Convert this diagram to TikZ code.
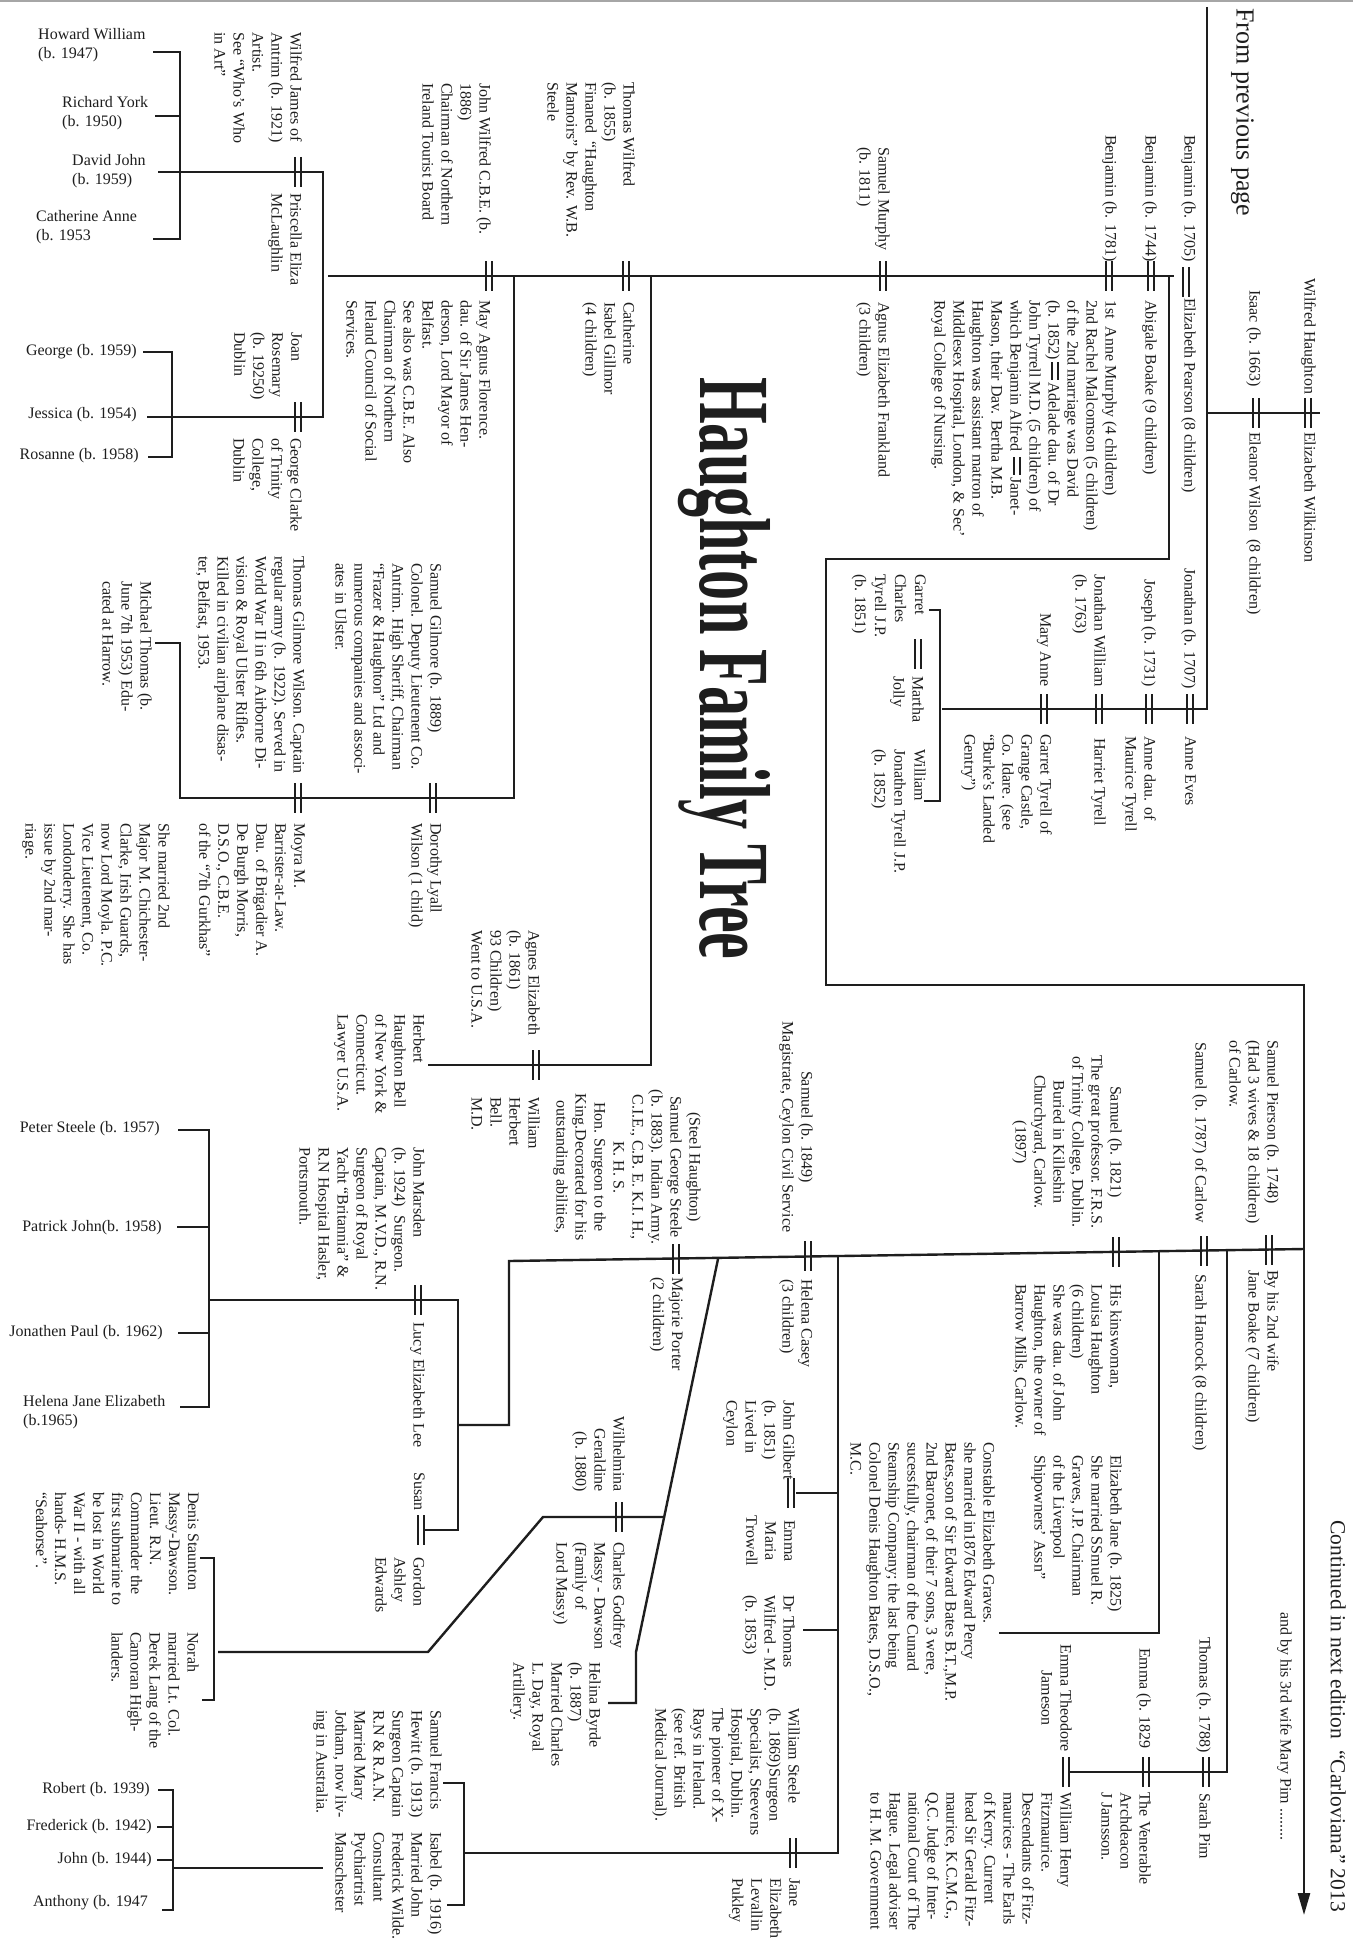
\documentclass[tikz,border=0pt]{standalone}
\usepackage{fontspec}
\setmainfont{Liberation Serif}
\usetikzlibrary{arrows.meta}
\definecolor{ink}{HTML}{1E1E1E}
\newcommand\fsv{\fontsize{16}{19}\selectfont}
\newcommand\fsh{\fontsize{16}{19.5}\selectfont}
\newcommand\mrkin{\kern2pt\rlap{\rule[2.5pt]{18pt}{2.2pt}}\rule[8.5pt]{18pt}{2.2pt}\kern2pt}
\newcommand\mk[2]{\draw[mkl] ({#1-3},{#2-15}) -- ({#1-3},{#2+15}) ({#1+3},{#2-15}) -- ({#1+3},{#2+15});}
\tikzset{
  vt/.style={rotate=-90, inner sep=0pt, font=\fsv, text=ink},
  vl/.style={vt, anchor=north west, align=left},
  vr/.style={vt, anchor=north east, align=right},
  vc/.style={vt, anchor=north, align=center},
  hz/.style={inner sep=0pt, font=\fsh, text=ink, align=left},
  ln/.style={line width=2.4pt, draw=ink, line join=miter},
  mkl/.style={line width=2.4pt, draw=ink},
}
\begin{document}
\begin{tikzpicture}[x=1pt,y=-1pt]
\fill[white] (0,0) rectangle (1353,1945);
\useasboundingbox (0,0) rectangle (1353,1945);
\draw[gray!70, line width=1.5pt] (0,1) -- (1353,1);

% ---------- lines ----------
\draw[ln] (1207,7) -- (1207,709) -- (942,709);
\draw[ln] (1207,413) -- (1320,413);
\draw[ln] (328,276) -- (1174,276);
\draw[ln] (1169,276) -- (1169,559) -- (826,559) -- (826,985) -- (1304,985);
\draw[ln, -{Triangle[width=12pt,length=22pt]}] (1304,984) -- (1304,1915);
\draw[ln] (929,610) -- (940,610) -- (940,801) -- (924,801);
\draw[ln] (158,172) -- (323,172) -- (323,417) -- (147,417);
\draw[ln] (153,52) -- (180,52) -- (180,239) -- (153,239);
\draw[ln] (155,116) -- (180,116);
\draw[ln] (143,352) -- (172,352) -- (172,457) -- (148,457);
\draw[ln] (514,276) -- (514,798) -- (180,798) -- (180,643) -- (155,643);
\draw[ln] (651,276) -- (651,1065) -- (428,1065);
\draw[ln] (1304,1249) -- (509,1261) -- (509,1425) -- (458,1425);
\draw[ln] (208,1300) -- (458,1300) -- (458,1530) -- (424,1530);
\draw[ln] (178,1130) -- (209,1130) -- (209,1407) -- (180,1407);
\draw[ln] (177,1227) -- (209,1227);
\draw[ln] (178,1333) -- (209,1333);
\draw[ln] (1227,1250) -- (1227,1772) -- (1070,1772);
\draw[ln] (1159,1251) -- (1159,1633) -- (999,1633);
\draw[ln] (838,1256) -- (838,1853) -- (464,1853);
\draw[ln] (796,1493) -- (838,1493);
\draw[ln] (803,1630) -- (838,1630);
\draw[ln] (443,1783) -- (464,1783) -- (464,1905) -- (447,1905);
\draw[ln] (173,1868) -- (323,1868);
\draw[ln] (158,1790) -- (173,1790) -- (173,1910) -- (162,1910);
\draw[ln] (157,1827) -- (173,1827);
\draw[ln] (157,1860) -- (173,1860);
\draw[ln] (718,1259) -- (636,1652) -- (636,1703) -- (608,1703);
\draw[ln] (664,1517) -- (543,1517) -- (428,1652) -- (218,1652);
\draw[ln] (200,1558) -- (214,1558) -- (214,1700) -- (202,1700);

% ---------- marriage marks ----------
\mk{1308}{413} \mk{1256}{413} \mk{1186}{282} \mk{1151}{276} \mk{1109}{276}
\mk{883}{276} \mk{626}{276} \mk{489}{276} \mk{298}{172} \mk{298}{417}
\mk{1190}{709} \mk{1149}{709} \mk{1099}{709} \mk{1044}{709} \mk{918}{654}
\mk{433}{798} \mk{298}{798} \mk{536}{1065} \mk{418}{1300} \mk{421}{1530}
\mk{1269}{1250} \mk{1204}{1251} \mk{1116}{1252} \mk{808}{1256} \mk{676}{1259}
\mk{619}{1517} \mk{791}{1493} \mk{793}{1853}
\mk{1206}{1772} \mk{1146}{1772} \mk{1066}{1772}

% ---------- title ----------
\node[rotate=-90, anchor=base west, inner sep=0pt, text=ink] (title) at (700,377)
  {\resizebox{582pt}{70pt}{\bfseries Haughton Family Tree}};

% ---------- top right ----------
\node[vl, font=\fontsize{26}{30}\selectfont] (fromprev) at (1254,8) {From previous page};
\node[vl] (wilfredh) at (1316,278) {Wilfred Haughton};
\node[vl] (elizw) at (1316,432) {Elizabeth Wilkinson};
\node[vl] (isaac) at (1261,290) {Isaac (b. 1663)};
\node[vl] (eleanor) at (1261,432) {Eleanor Wilson~ (8 children)};
\node[vl] (ben1705) at (1196,135) {Benjamin (b. 1705)};
\node[vl] (elizp) at (1196,298) {Elizabeth Pearson (8 children)};
\node[vl] (ben1744) at (1157,135) {Benjamin (b. 1744)};
\node[vl] (abigale) at (1157,300) {Abigale Boake (9 children)};
\node[vl] (ben1781) at (1117,135) {Benjamin (b. 1781)};
\node[vl] (annem) at (1117,300) {1st~ Anne Murphy (4 children)\\
2nd Rachel Malcomson (5 children)\\
of the 2nd marriage was David\\
(b. 1852)\mrkin Adelade dau. of Dr\\
John Tyrrell M.D. (5 children) of\\
which Benjamin Alfred \mrkin Janet-\\
Mason, their Dav. Bertha M.B.\\
Haughton was assistant matron of\\
Middlesex Hospital, London, \& Sec’\\
Royal College of Nursing.};

\node[vl] (jon1707) at (1196,568) {Jonathan (b. 1707)};
\node[vl] (anneeves) at (1196,736) {Anne Eves};
\node[vl] (jos1731) at (1156,579) {Joseph (b. 1731)};
\node[vl] (annedau) at (1156,736) {Anne dau. of\\Maurice Tyrell};
\node[vl] (jonwill) at (1106,574) {Jonathan William\\(b. 1763)};
\node[vl] (harriet) at (1106,738) {Harriet Tyrell};
\node[vl] (maryanne) at (1051,613) {Mary Anne};
\node[vl] (garrett) at (1052,734) {Garret Tyrell of\\Grange Castle,\\Co. Idare. (see\\“Burke’s Landed\\Gentry”)};
\node[vl, font=\fontsize{16}{20}\selectfont] (garret) at (926,574) {Garret\\Charles\\Tyrell J.P.\\(b. 1851)};
\node[vl] (martha) at (924,676) {Martha\\Jolly};
\node[vl, font=\fontsize{16}{20}\selectfont] (william) at (926,749) {William\\Jonathen Tyrell J.P.\\(b. 1852)};

% ---------- upper middle ----------
\node[vl] (sammurphy) at (890,147) {Samuel Murphy\\(b. 1811)};
\node[vl] (agnusef) at (890,302) {Agnus Elizabeth Frankland\\(3 children)};
\node[vl] (thomasw) at (635,82) {Thomas Wilfred\\(b. 1855)\\Finaned ~“Haughton\\Mamoirs” by Rev. W.B.\\Steele};
\node[vl] (catherine) at (635,302) {Catherine\\Isabel Gillmor\\(4 children)};
\node[vl] (johnw) at (491,83) {John Wilfred C.B.E. (b.\\1886)\\Chairman of Northern\\Ireland Tourist Board};
\node[vl] (mayagnus) at (491,300) {May Agnus Florence.\\dau. of Sir James Hen-\\derson, Lord Mayor of\\Belfast.\\See also was C.B.E. Also\\Chairman of Northern\\Ireland Council of Social\\Services.};

% ---------- upper left ----------
\node[vl] (wilfredj) at (302,32) {Wilfred James of\\Antrim (b. 1921)\\Artist.\\See “Who’s Who\\in Art”};
\node[vl] (priscella) at (302,193) {Priscella Eliza\\McLaughlin};
\node[vl] (joan) at (302,332) {Joan\\Rosemary\\(b. 19250)\\Dublin};
\node[vl] (georgec) at (302,438) {George Clarke\\of Trinity\\College,\\Dublin};
\node[hz, anchor=north west] (howard) at (38,28) {Howard William\\(b. 1947)};
\node[hz, anchor=north west] (richard) at (62,96) {Richard York\\(b. 1950)};
\node[hz, anchor=north west] (david) at (72,154) {David John\\(b. 1959)};
\node[hz, anchor=north west] (cath) at (36,210) {Catherine Anne\\(b. 1953};
\node[hz, anchor=east] (georgek) at (137,352) {George (b. 1959)};
\node[hz, anchor=east] (jessica) at (137,415) {Jessica (b. 1954)};
\node[hz, anchor=east] (rosanne) at (139,456) {Rosanne (b. 1958)};

% ---------- middle left ----------
\node[vl] (sgilmore) at (442,563) {Samuel Gilmore (b. 1889)\\Colonel. Deputy Lieutenent Co.\\Antrim. High Sheriff, Chairman\\“Frazer \& Haughton” Ltd and\\numerous companies and associ-\\ates in Ulster.};
\node[vl] (dorothy) at (442,823) {Dorothy Lyall\\Wilson (1 child)};
\node[vl] (tgwilson) at (305,556) {Thomas Gilmore Wilson. Captain\\regular army (b. 1922). Served in\\World War II in 6th Airborne Di-\\vision \& Royal Ulster Rifles.\\Killed in civilian airplane disas-\\ter, Belfast, 1953.};
\node[vl] (moyra) at (305,823) {Moyra M.\\Barrister-at-Law.\\Dau. of Brigadier A.\\De Burgh Morris,\\D.S.O., C.B.E.\\of the “7th Gurkhas”};
\node[vl] (shemarried) at (170,823) {She married 2nd\\Major M. Chichester-\\Clarke, Irish Guards,\\now Lord Moyla. P.C.\\Vice Lieutenent, Co.\\Londonderry. She has\\issue by 2nd mar-\\riage.};
\node[vl] (michael) at (152,581) {Michael Thomas (b.\\June 7th 1953) Edu-\\cated at Harrow.};

\node[vl] (agnes) at (540,930) {Agnes Elizabeth\\(b. 1861)\\93 Children)\\Went to U.S.A.};
\node[vl] (williamhb) at (540,1097) {William\\Herbert\\Bell.\\M.D.};
\node[vl] (herbert) at (425,1014) {Herbert\\Haughton Bell\\of New York \&\\Connecticut.\\Lawyer U.S.A.};
\node[vl] (johnm) at (425,1147) {John Marsden\\(b. 1924)~ Surgeon.\\Captain, M.V.D., R.N.\\Surgeon of Royal\\Yacht “Britannia” \&\\R.N Hospital Hasler,\\Portsmouth.};
\node[vl] (lucy) at (425,1322) {Lucy Elizabeth Lee};
\node[hz, anchor=east] (peter) at (160,1129) {Peter Steele (b. 1957)};
\node[hz, anchor=east] (patrick) at (162,1228) {Patrick John(b. 1958)};
\node[hz, anchor=east] (jonathenp) at (163,1333) {Jonathen Paul (b. 1962)};
\node[hz, anchor=north west] (helenaj) at (23,1395) {Helena Jane Elizabeth\\(b.1965)};
\node[vl] (susan) at (425,1472) {Susan};
\node[vl] (gordon) at (425,1557) {Gordon\\Ashley\\Edwards};

% ---------- right middle ----------
\node[vl] (spierson) at (1279,1040) {Samuel Pierson (b. 1748)\\(Had 3 wives \& 18 children)\\of Carlow.};
\node[vl] (byhis) at (1279,1270) {By his 2nd wife\\Jane Boake (7 children)};
\node[vl] (s1787) at (1207,1042) {Samuel (b. 1787) of Carlow};
\node[vl] (sarahh) at (1207,1274) {Sarah Hancock (8 children)};
\node[vc] (s1821) at (1122,1142) {Samuel (b. 1821)\\The great professor. F.R.S.\\of Trinity College, Dublin.\\Buried in Killeshin\\Churchyard, Carlow.\\(1897)};
\node[vl] (louisa) at (1122,1284) {His kinswoman,\\Louisa Haughton\\(6 children)\\She was dau. of John\\Haughton, the owner of\\Barrow Mills, Carlow.};
\node[vl] (elizj) at (1122,1455) {Elizabeth Jane (b. 1825)\\She married SSmuel R.\\Graves, J.P. Chairman\\of the Liverpool\\Shipowners’ Assn”};
\node[vl] (constable) at (995,1442) {Constable Elizabeth Graves.\\she married in1876 Edward Percy\\Bates,son of Sir Edward Bates B.T.,M.P.\\2nd Baronet, of their 7 sons, 3 were,\\sucessfully, chairman of the Cunard\\Steamship Company; the last being\\Colonel Denis Haughton Bates, D.S.O.,\\M.C.};
\node[vl] (thomas1788) at (1211,1637) {Thomas (b. 1788)};
\node[vl] (sarahpim) at (1211,1793) {Sarah Pim};
\node[vl] (emma1829) at (1151,1648) {Emma (b. 1829};
\node[vl] (venerable) at (1151,1792) {The Venerable\\Archdeacon\\J Jamsson.};
\node[vc] (emmat) at (1072,1698) {Emma Theodore\\Jameson};
\node[vl] (williamhf) at (1072,1792) {William Henry\\Fitzmaurice.\\Descendants of Fitz-\\maurices - The Earls\\of Kerry. Current\\head Sir Gerald Fitz-\\maurice, K.C.M.G.,\\Q.C. Judge of Inter-\\national Court of The\\Hague. Legal adviser\\to H. M. Government};
\node[vl, font=\fontsize{21.5}{25}\selectfont] (continued) at (1346,1520) {Continued in next edition~ “Carloviana” 2013};
\node[vl] (andby) at (1292,1612) {and by his 3rd wife Mary Pim ........};

% ---------- lower middle ----------
\node[vc] (s1849) at (813,1127) {Samuel (b. 1849)\\Magistrate, Ceylon Civil Service};
\node[vl] (helenac) at (813,1279) {Helena Casey\\(3 children)};
\node[vc] (steele) at (701,1167) {(Steel Haughton)\\Samuel George Steele\\(b. 1883). Indian Army.\\C.I.E., C.B. E. K.I. H.,\\K. H. S.\\Hon. Surgeon to the\\King.Decorated for his\\outstanding abilities,};
\node[vl] (majorie) at (683,1277) {Majorie Porter\\(2 children)};
\node[vl] (johng) at (795,1400) {John Gilbert\\(b. 1851)\\Lived in\\Ceylon};
\node[vc] (emmam) at (795,1541) {Emma\\Maria\\Trowell};
\node[vl] (drthomas) at (795,1595) {Dr Thomas\\Wilfred - M.D.\\(b. 1853)};
\node[vl] (williams) at (800,1708) {William Steele\\(b. 1869)Surgeon\\Specialist, Steevens\\Hospital, Dublin.\\The pioneer of X-\\Rays in Ireland.\\(see ref. British\\Medical Journal).};
\node[vl] (janee) at (800,1878) {Jane\\Elizabeth\\Levallin\\Pukley};
\node[vr] (wilhelmina) at (625,1492) {Wilhelmina\\Geraldine\\(b. 1880)};
\node[vl] (charlesg) at (625,1542) {Charles Godfrey\\Massy - Dawson\\(Family of\\Lord Massy)};
\node[vl] (helina) at (601,1662) {Helina Byrde\\(b. 1887)\\Married Charles\\L. Day, Royal\\Artillery.};
\node[vl] (denis) at (199,1492) {Denis Staunton\\Massy-Dawson.\\Lieut. R.N.\\Commander the\\first submarine to\\be lost in World\\War II - with all\\hands- H.M.S.\\“Seahorse”.};
\node[vl] (norah) at (199,1632) {Norah\\married Lt. Col.\\Derek Lang of the\\Camoran High-\\landers.};
\node[vl] (samuelf) at (442,1710) {Samuel Francis\\Hewitt (b. 1913)\\Surgeon Captain\\R.N \& R.A.N.\\Married Mary\\Jotham, now liv-\\ing in Australia.};
\node[vl] (isabel) at (442,1832) {Isabel (b. 1916)\\Married John\\Frederick Wilde.\\Consultant\\Pychiartrist\\Manschester};
\node[hz, anchor=east] (robert) at (150,1790) {Robert (b. 1939)};
\node[hz, anchor=east] (frederick) at (152,1827) {Frederick (b. 1942)};
\node[hz, anchor=east] (johnk) at (152,1860) {John (b. 1944)};
\node[hz, anchor=east] (anthony) at (148,1903) {Anthony (b. 1947};
\end{tikzpicture}
\end{document}
